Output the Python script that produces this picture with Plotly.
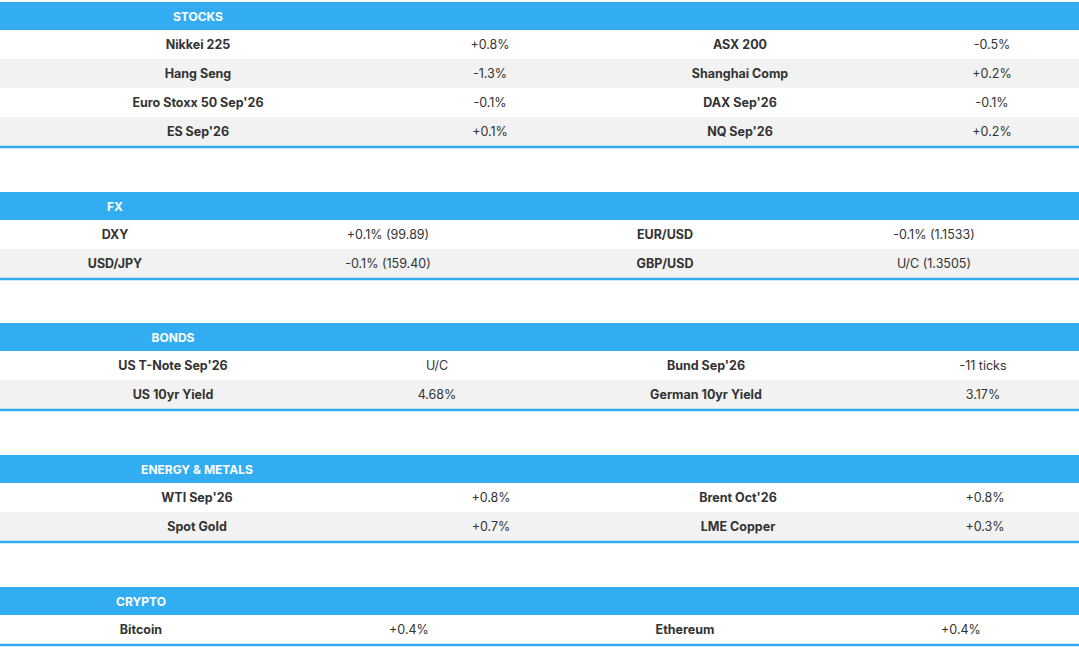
import plotly.graph_objects as go

sections = ["STOCKS", "FX", "BONDS", "ENERGY & METALS", "CRYPTO"]
left_names = [
    ["Nikkei 225", "Hang Seng", "Euro Stoxx 50 Sep'26", "ES Sep'26"],
    ["DXY", "USD/JPY"],
    ["US T-Note Sep'26", "US 10yr Yield"],
    ["WTI Sep'26", "Spot Gold"],
    ["Bitcoin"],
]
left_vals = [
    ["+0.8%", "-1.3%", "-0.1%", "+0.1%"],
    ["+0.1% (99.89)", "-0.1% (159.40)"],
    ["U/C", "4.68%"],
    ["+0.8%", "+0.7%"],
    ["+0.4%"],
]
right_names = [
    ["ASX 200", "Shanghai Comp", "DAX Sep'26", "NQ Sep'26"],
    ["EUR/USD", "GBP/USD"],
    ["Bund Sep'26", "German 10yr Yield"],
    ["Brent Oct'26", "LME Copper"],
    ["Ethereum"],
]
right_vals = [
    ["-0.5%", "+0.2%", "-0.1%", "+0.2%"],
    ["-0.1% (1.1533)", "U/C (1.3505)"],
    ["-11 ticks", "3.17%"],
    ["+0.8%", "+0.3%"],
    ["+0.4%"],
]

# layout (pixels)
header_tops = [2, 192, 323, 455, 587]
col_x = [[198, 490, 740, 992], [115, 388, 665, 934], [173, 437, 706, 983],
         [197, 491, 738, 985], [141, 409, 685, 961]]
HH, RH = 28, 29
BLUE = "#33adf2"
W, H = 1079, 647
TY = 1.5  # text vertical nudge

fig = go.Figure()
shapes = []
for s, top in enumerate(header_tops):
    shapes.append(dict(type="rect", x0=-20, x1=W + 20, y0=top, y1=top + HH, fillcolor=BLUE, line_width=0, layer="below"))
    n = len(left_names[s])
    for r in range(n):
        y0 = top + HH + r * RH
        shapes.append(dict(type="rect", x0=-20, x1=W + 20, y0=y0, y1=y0 + RH,
                           fillcolor="#ffffff" if r % 2 == 0 else "#f2f2f2", line_width=0, layer="below"))
    yb = top + HH + n * RH + 1
    shapes.append(dict(type="line", x0=-20, x1=W + 20, y0=yb, y1=yb, line=dict(color=BLUE, width=2.5)))
    fig.add_trace(go.Scatter(x=[col_x[s][0]], y=[top + HH / 2 + TY], mode="text", text=[f"<b>{sections[s]}</b>"],
                             textfont=dict(family="Inter", size=12, color="white"), hoverinfo="skip"))
    ys = [top + HH + r * RH + RH / 2 + TY for r in range(n)]
    for ci, (arr, bold) in enumerate([(left_names[s], True), (left_vals[s], False),
                                       (right_names[s], True), (right_vals[s], False)]):
        fig.add_trace(go.Scatter(x=[col_x[s][ci]] * n, y=ys, mode="text",
                                 text=[f"<b>{t}</b>" if bold else t for t in arr],
                                 textfont=dict(family="Inter", size=12.5, color="#333333"), hoverinfo="skip"))

fig.update_layout(width=W, height=H, margin=dict(l=0, r=0, t=0, b=0), showlegend=False,
                  plot_bgcolor="white", paper_bgcolor="white", shapes=shapes,
                  xaxis=dict(range=[0, W], visible=False, fixedrange=True),
                  yaxis=dict(range=[H, 0], visible=False, fixedrange=True))
fig.write_html("out.html", config={"displayModeBar": False},
               post_script="document.body.style.margin='0';document.body.style.overflow='hidden';")
